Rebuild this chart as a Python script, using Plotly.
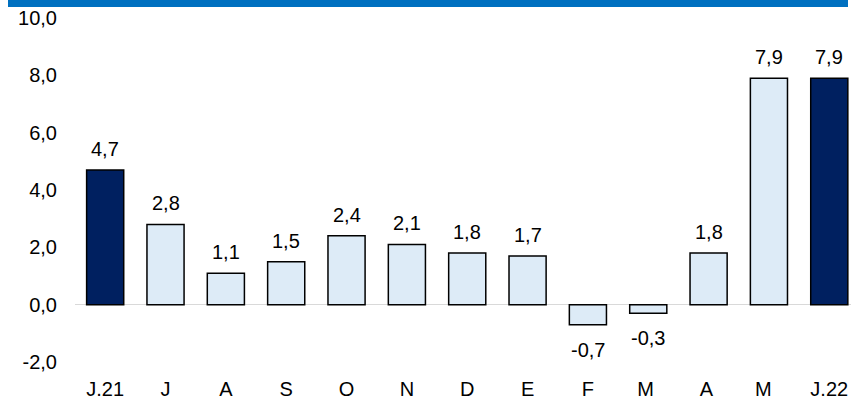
import plotly.graph_objects as go

categories = ["J.21", "J", "A", "S", "O", "N", "D", "E", "F", "M ", "A ", "M  ", "J.22"]
values = [4.7, 2.8, 1.1, 1.5, 2.4, 2.1, 1.8, 1.7, -0.7, -0.3, 1.8, 7.9, 7.9]
tick_vals = [-2, 0, 2, 4, 6, 8, 10]
tick_text = ["-2,0", "0,0", "2,0", "4,0", "6,0", "8,0", "10,0"]
highlight = [True] + [False] * 11 + [True]

DARK = "#002060"
LIGHT = "#DDEBF7"
colors = [DARK if h else LIGHT for h in highlight]
FONT = "Liberation Sans, Arial, sans-serif"

fig = go.Figure()
fig.add_trace(go.Bar(
    x=categories, y=values, marker=dict(color=colors, line=dict(color="#000000", width=1.5)),
    width=0.615, hoverinfo="skip",
))

for c, v in zip(categories, values):
    lbl = f"{v:.1f}".replace(".", ",")
    fig.add_annotation(
        x=c, y=v, text=lbl, showarrow=False,
        yanchor="bottom" if v >= 0 else "top",
        yshift=8 if v >= 0 else -12,
        font=dict(family=FONT, size=20, color="#000000"),
    )

W, H = 851, 405
ml, mr, mt, mb = 75, 0, 18, 43
pw, ph = W - ml - mr, H - mt - mb

fig.add_shape(
    type="rect", xref="paper", yref="paper",
    x0=(8 - ml) / pw, x1=(848 - ml) / pw,
    y0=1 + (mt - 7) / ph, y1=1 + mt / ph,
    fillcolor="#0070C0", line=dict(width=0), layer="above",
)

fig.update_layout(
    width=W, height=H,
    margin=dict(l=ml, r=mr, t=mt, b=mb, autoexpand=False),
    paper_bgcolor="white", plot_bgcolor="white",
    showlegend=False,
    font=dict(family=FONT, size=20, color="#000000"),
    xaxis=dict(showgrid=False, showline=False, ticks="outside", ticklen=9,
               tickcolor="rgba(0,0,0,0)", tickfont=dict(size=20),
               categoryorder="array", categoryarray=categories,
               range=[-0.5, 12.36], automargin=False),
    yaxis=dict(range=[-2, 10], tickvals=tick_vals, ticktext=tick_text, showgrid=False,
               showline=False, zeroline=True, zerolinecolor="#D9D9D9", zerolinewidth=1.5,
               ticks="outside", ticklen=13, tickcolor="rgba(0,0,0,0)", tickfont=dict(size=20),
               automargin=False),
)

fig.write_html("out.html", config={"displayModeBar": False, "staticPlot": True},
               post_script="document.body.style.margin='0';document.body.style.padding='0';")
